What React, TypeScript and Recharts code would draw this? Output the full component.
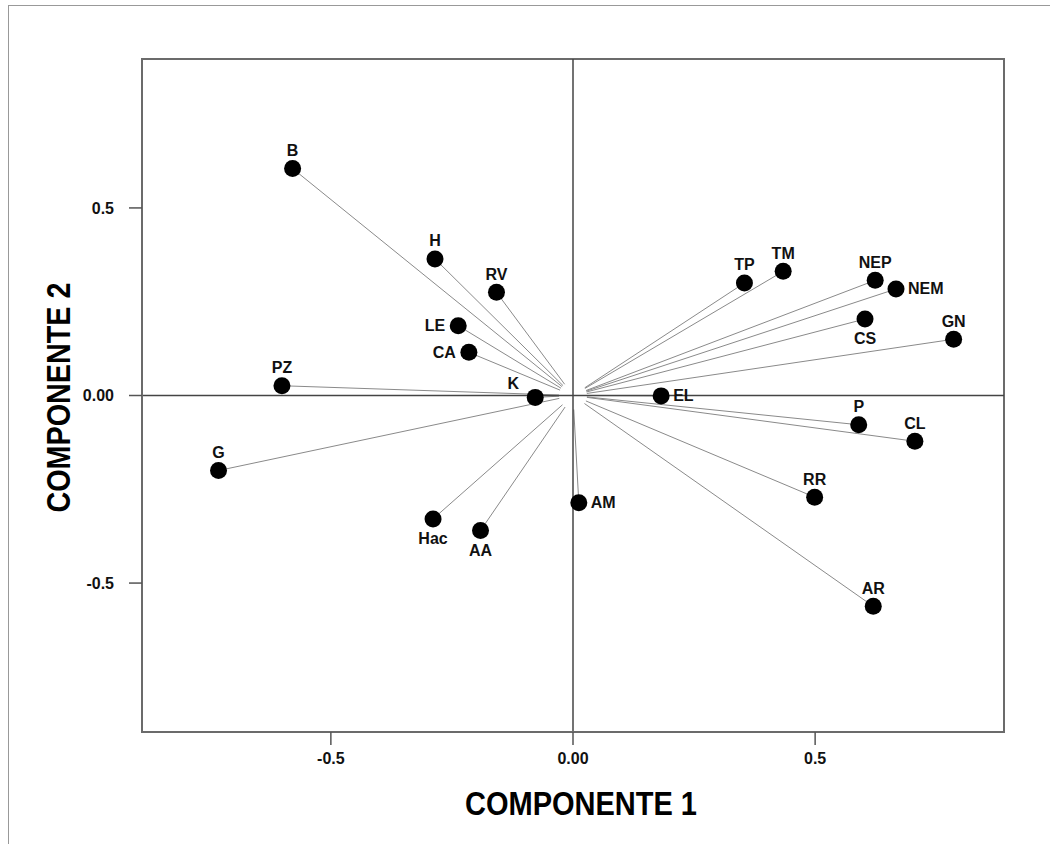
import { ScatterChart, Scatter, XAxis, YAxis, ReferenceLine, ReferenceArea, Label } from 'recharts';

// variable names and loadings on the first two components
const names = ['B', 'H', 'RV', 'LE', 'CA', 'PZ', 'K', 'G', 'Hac', 'AA', 'AM', 'EL', 'TP', 'TM', 'NEP', 'NEM', 'CS', 'GN', 'P', 'CL', 'RR', 'AR'];
const comp1 = [-0.579, -0.285, -0.158, -0.237, -0.215, -0.601, -0.078, -0.732, -0.289, -0.191, 0.012, 0.182, 0.354, 0.434, 0.624, 0.667, 0.603, 0.786, 0.590, 0.706, 0.499, 0.620];
const comp2 = [0.605, 0.364, 0.275, 0.186, 0.115, 0.026, -0.005, -0.200, -0.329, -0.360, -0.286, -0.001, 0.300, 0.331, 0.307, 0.284, 0.204, 0.150, -0.078, -0.122, -0.271, -0.562];
const ticks = [-0.5, 0, 0.5];

// where each name sits relative to its dot
const LABEL_POS: Record<string, string> = {
  LE: 'left', CA: 'left', K: 'topleft',
  Hac: 'bottom', AA: 'bottom', CS: 'bottom',
  AM: 'right', EL: 'right', NEM: 'right',
};

const FONT = '"Liberation Sans", Arial, Helvetica, sans-serif';
const X_DOMAIN = [-0.89, 0.89];
const Y_DOMAIN = [-0.897, 0.897];

const points = names.map((name, i) => ({ name, x: comp1[i], y: comp2[i] }));

// vectors stop a little short of the origin, like the original
const vecStart = (x: number, y: number) => {
  const len = Math.sqrt((x * 484) ** 2 + (y * 375.5) ** 2);
  const k = 14 / len;
  return { x: x * k, y: y * k };
};

const fmt = (v: number) => (v === 0 ? '0.00' : v.toFixed(1));

const Dot = (props: any) => {
  const { cx, cy, payload } = props;
  const pos = LABEL_POS[payload.name] || 'top';
  let tx = cx, ty = cy - 18, anchor = 'middle';
  if (pos === 'bottom') ty = cy + 20;
  if (pos === 'left') { tx = cx - 13; ty = cy; anchor = 'end'; }
  if (pos === 'right') { tx = cx + 12; ty = cy; anchor = 'start'; }
  if (pos === 'topleft') { tx = cx - 22; ty = cy - 14; }
  return (
    <g>
      <circle cx={cx} cy={cy} r={8.5} fill="#000" />
      <text x={tx} y={ty + 5.5} textAnchor={anchor} fontFamily={FONT} fontWeight="bold" fontSize={16} fill="#111">
        {payload.name}
      </text>
    </g>
  );
};

export default function App() {
  return (
    <div style={{ position: 'absolute', left: 0, top: 0, width: 1050, height: 844, background: '#fff' }}>
      <div style={{ position: 'absolute', left: 8, top: 5, width: 1042, height: 839, borderTop: '1px solid #999', borderLeft: '1px solid #999' }} />
      <ScatterChart width={1050} height={844} margin={{ top: 59, right: 46, bottom: 0, left: 0 }}>
        <XAxis
          type="number"
          dataKey="x"
          domain={X_DOMAIN}
          ticks={ticks}
          allowDataOverflow
          tickFormatter={fmt}
          height={112}
          tickSize={13}
          tickMargin={8}
          axisLine={{ stroke: '#6b6b6b', strokeWidth: 2 }}
          tickLine={{ stroke: '#555', strokeWidth: 1.5 }}
          tick={{ fill: '#111', fontFamily: FONT, fontWeight: 'bold', fontSize: 16 }}
        >
          <Label
            content={(p: any) => {
              const vb = p.viewBox;
              return (
                <text x={vb.x + vb.width / 2 + 8} y={803 + 12} textAnchor="middle" fontFamily={FONT} fontWeight="bold" fontSize={33} textLength={232} lengthAdjust="spacingAndGlyphs" fill="#000">
                  COMPONENTE 1
                </text>
              );
            }}
          />
        </XAxis>
        <YAxis
          type="number"
          dataKey="y"
          domain={Y_DOMAIN}
          ticks={ticks}
          allowDataOverflow
          tickFormatter={fmt}
          width={142}
          tickSize={13}
          tickMargin={15}
          axisLine={{ stroke: '#6b6b6b', strokeWidth: 2 }}
          tickLine={{ stroke: '#555', strokeWidth: 1.5 }}
          tick={{ fill: '#111', fontFamily: FONT, fontWeight: 'bold', fontSize: 16 }}
        >
          <Label
            content={(p: any) => {
              const vb = p.viewBox;
              const cy = vb.y + vb.height / 2 + 2;
              return (
                <text x={58 + 12} y={cy} transform={`rotate(-90 ${58 + 12} ${cy})`} textAnchor="middle" fontFamily={FONT} fontWeight="bold" fontSize={33} textLength={230} lengthAdjust="spacingAndGlyphs" fill="#000">
                  COMPONENTE 2
                </text>
              );
            }}
          />
        </YAxis>
        <ReferenceArea x1={X_DOMAIN[0]} x2={X_DOMAIN[1]} y1={Y_DOMAIN[0]} y2={Y_DOMAIN[1]} fill="none" stroke="#6b6b6b" strokeWidth={2} />
        {points.map((pt) => (
          <ReferenceLine
            key={'v-' + pt.name}
            segment={[vecStart(pt.x, pt.y), { x: pt.x, y: pt.y }]}
            stroke="#8a8a8a"
            strokeWidth={1}
          />
        ))}
        <ReferenceLine x={0} stroke="#444" strokeWidth={1.5} />
        <ReferenceLine y={0} stroke="#444" strokeWidth={1.5} />
        <Scatter data={points} shape={Dot} isAnimationActive={false} />
      </ScatterChart>
    </div>
  );
}
